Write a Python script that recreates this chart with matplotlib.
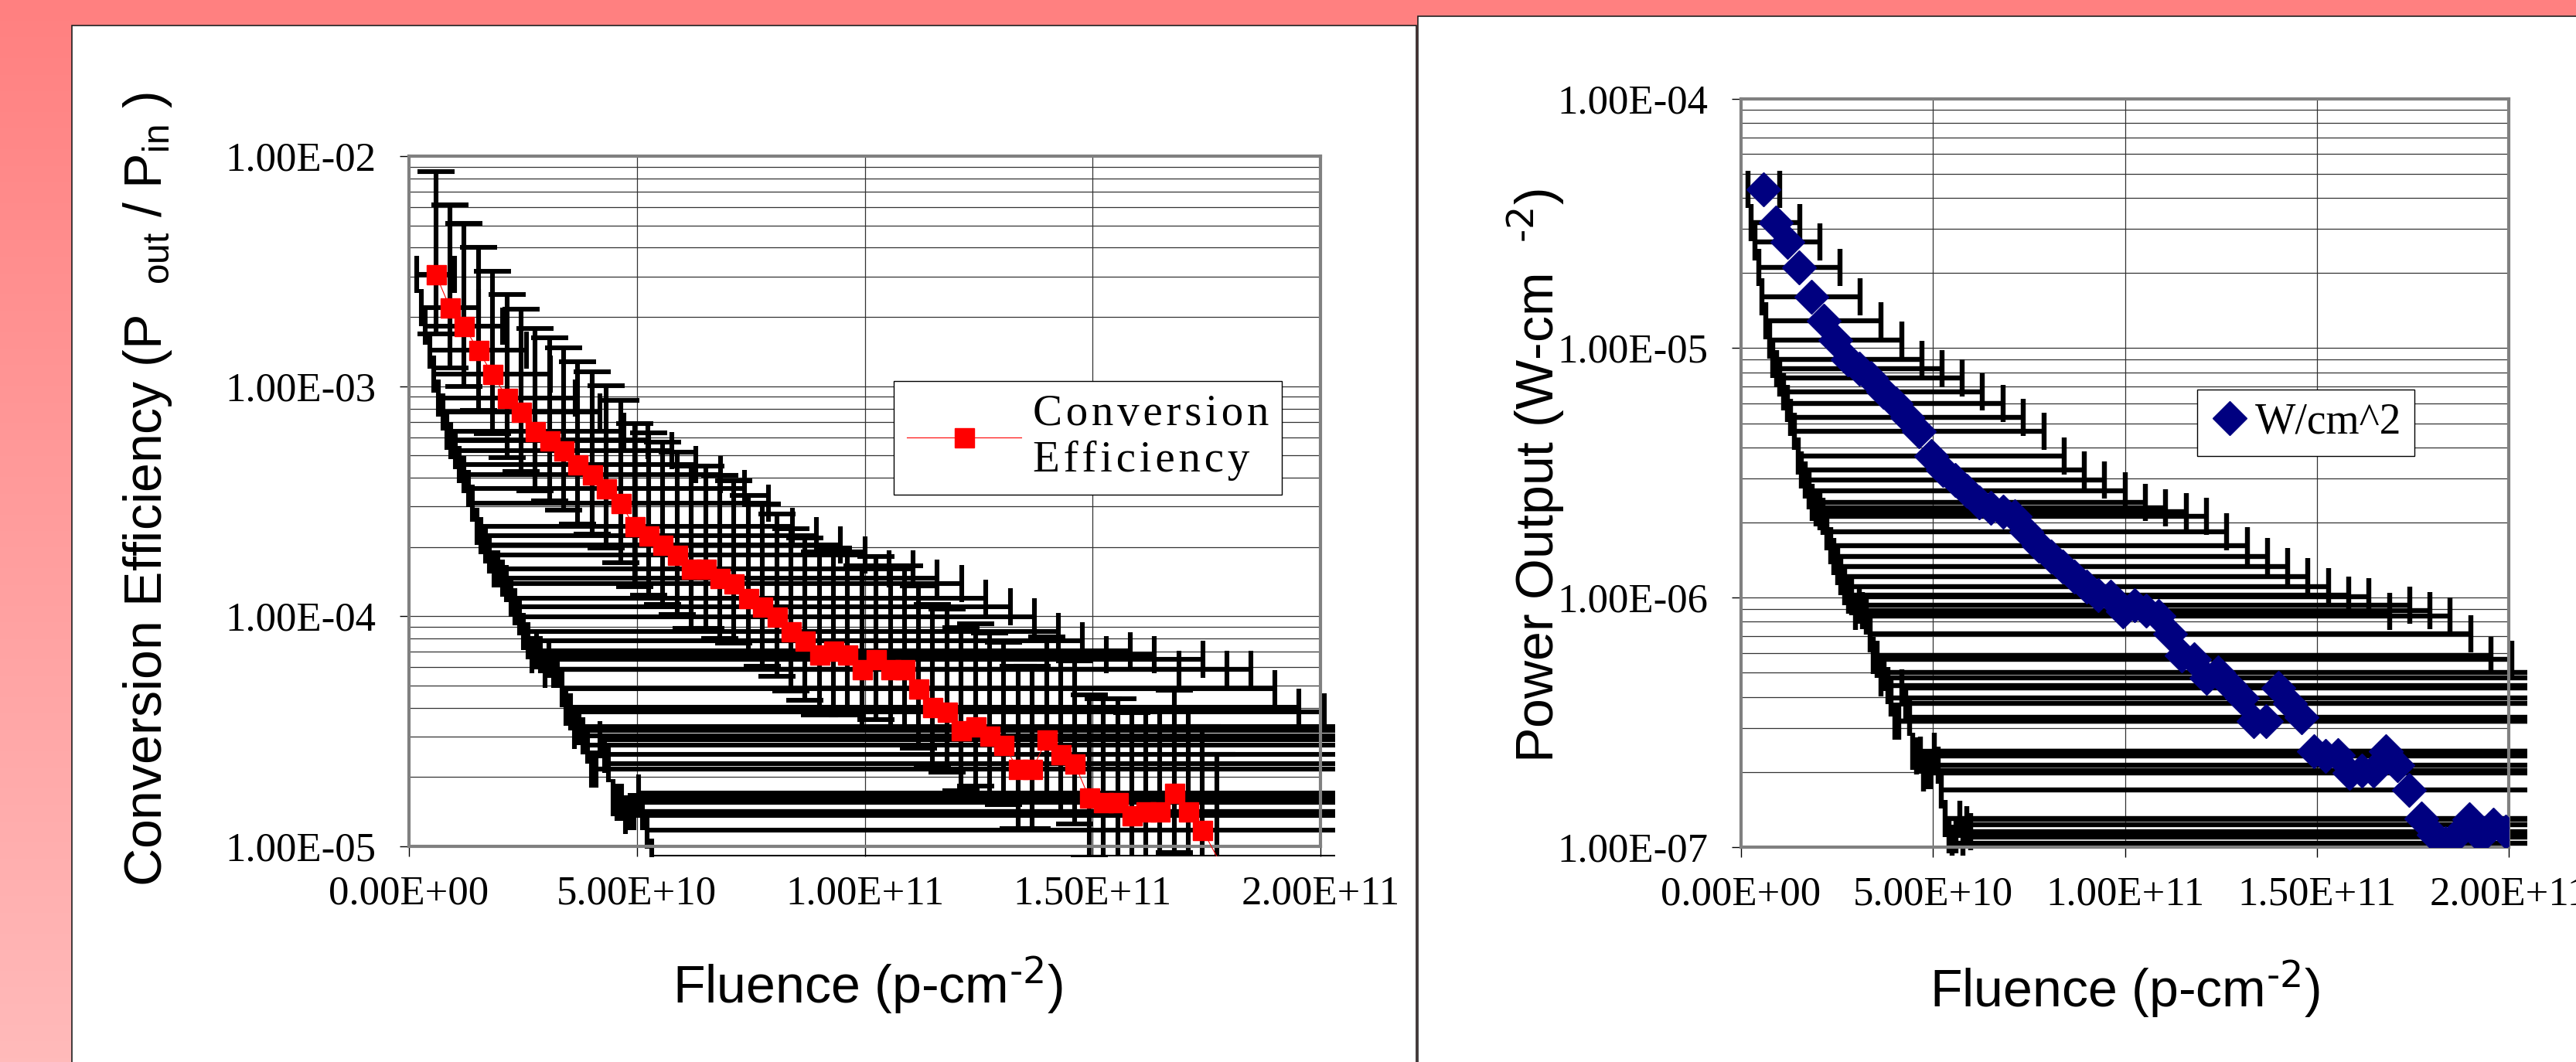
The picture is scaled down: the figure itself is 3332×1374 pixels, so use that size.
import numpy as np
import matplotlib.pyplot as plt
from matplotlib.patches import Rectangle
from matplotlib.lines import Line2D
from matplotlib.ticker import FixedLocator, LogLocator, NullFormatter

plt.rcParams['font.family'] = ['Liberation Sans', 'DejaVu Sans']
plt.rcParams['mathtext.default'] = 'regular'

W, H, DPI = 3332, 1374, 100

# fluence of each measurement, in units of 1e9 p/cm^2
fluence_e9 = [5.9, 9.0, 12.1, 15.2, 18.3, 21.5, 24.6, 27.7, 30.8, 33.9,
              37.0, 40.2, 43.3, 46.4, 49.5, 52.6, 55.7, 58.9, 62.0, 65.1,
              68.2, 71.3, 74.4, 77.6, 80.7, 83.8, 86.9, 90.0, 93.1, 96.2,
              99.4, 102.5, 105.6, 108.7, 111.8, 114.9, 118.1, 121.2, 124.3, 127.4,
              130.5, 133.6, 136.8, 139.9, 143.0, 146.1, 149.2, 152.3, 155.5, 158.6,
              161.7, 164.8, 167.9, 171.0, 174.1, 177.3, 180.4, 183.5, 186.6, 189.7,
              192.8, 196.0, 199.1]

efficiency = [3.06e-3, 2.19e-3, 1.82e-3, 1.43e-3, 1.13e-3, 8.91e-4, 7.73e-4, 6.37e-4,
              5.79e-4, 5.26e-4, 4.56e-4, 4.14e-4, 3.59e-4, 3.11e-4, 2.45e-4, 2.24e-4,
              2.04e-4, 1.85e-4, 1.61e-4, 1.61e-4, 1.46e-4, 1.39e-4, 1.20e-4, 1.10e-4,
              9.96e-5, 8.61e-5, 7.83e-5, 6.79e-5, 7.10e-5, 6.79e-5, 5.90e-5, 6.49e-5,
              5.90e-5, 5.90e-5, 4.86e-5, 4.03e-5, 3.83e-5, 3.18e-5, 3.32e-5, 3.02e-5,
              2.76e-5, 2.17e-5, 2.17e-5, 2.90e-5, 2.51e-5, 2.28e-5, 1.63e-5, 1.56e-5,
              1.56e-5, 1.36e-5, 1.42e-5, 1.42e-5, 1.71e-5, 1.42e-5, 1.18e-5, 9.0e-6]

power = [4.33e-5, 3.18e-5, 2.66e-5, 2.11e-5, 1.61e-5, 1.29e-5, 1.08e-5, 9.0e-6,
         8.28e-6, 7.57e-6, 6.68e-6, 6.01e-6, 5.27e-6, 4.63e-6, 3.69e-6, 3.24e-6,
         2.97e-6, 2.68e-6, 2.40e-6, 2.29e-6, 2.21e-6, 2.12e-6, 1.84e-6, 1.62e-6,
         1.46e-6, 1.33e-6, 1.21e-6, 1.11e-6, 1.02e-6, 1.01e-6, 8.81e-7, 9.32e-7,
         8.87e-7, 8.44e-7, 7.16e-7, 5.86e-7, 5.66e-7, 4.77e-7, 5.01e-7, 4.44e-7,
         3.96e-7, 3.20e-7, 3.20e-7, 4.35e-7, 3.77e-7, 3.31e-7, 2.42e-7, 2.32e-7,
         2.34e-7, 1.98e-7, 2.02e-7, 2.02e-7, 2.42e-7, 2.13e-7, 1.69e-7, 1.30e-7,
         1.12e-7, 1.04e-7, 1.12e-7, 1.29e-7, 1.10e-7, 1.23e-7, 1.15e-7]

# error bar settings (percentage bars, as in the spreadsheet)
x_err_pct = 0.70
eff_err_plus = 1.80
eff_err_minus = 0.45

x_ticks = [0, 5e10, 1e11, 1.5e11, 2e11]
x_ticklabels = ['0.00E+00', '5.00E+10', '1.00E+11', '1.50E+11', '2.00E+11']
eff_ticks = [1e-5, 1e-4, 1e-3, 1e-2]
eff_ticklabels = ['1.00E-05', '1.00E-04', '1.00E-03', '1.00E-02']
pow_ticks = [1e-7, 1e-6, 1e-5, 1e-4]
pow_ticklabels = ['1.00E-07', '1.00E-06', '1.00E-05', '1.00E-04']

SERIF = ['Liberation Serif', 'DejaVu Serif']
HAIR = '\u200a'


def spaced(s):
    # the spreadsheet spread the legend letters out a little
    return '\n'.join(HAIR.join(line) for line in s.split('\n'))


def px_axes(fig, left, top, right, bottom):
    return fig.add_axes([left / W, 1 - bottom / H, (right - left) / W, (bottom - top) / H])


def wide_clip(artists, ax, x0, y0, x1, y1):
    rect = Rectangle((x0, y0), x1 - x0, y1 - y0, transform=ax.transAxes)
    for a in artists:
        a.set_clip_path(rect)


def style_axes(ax, yticks, yticklabels, ylim):
    ax.set_yscale('log')
    ax.set_xlim(0, 2e11)
    ax.set_ylim(*ylim)
    ax.set_facecolor('white')
    ax.yaxis.set_major_locator(FixedLocator(yticks))
    ax.set_yticklabels(yticklabels)
    ax.yaxis.set_minor_locator(LogLocator(base=10, subs=np.arange(2, 10)))
    ax.yaxis.set_minor_formatter(NullFormatter())
    ax.set_xticks(x_ticks)
    ax.set_xticklabels(x_ticklabels)
    ax.grid(True, which='both', axis='y', color='#333333', lw=0.9, zorder=0)
    ax.grid(True, which='major', axis='x', color='#333333', lw=0.9, zorder=0)
    ax.set_axisbelow(True)
    for s in ax.spines.values():
        s.set_color('#808080')
        s.set_linewidth(3)
    ax.tick_params(which='major', direction='out', length=9, width=1, color='black')
    ax.tick_params(which='minor', length=0)
    ax.tick_params(axis='y', pad=22)
    ax.tick_params(axis='x', pad=18)
    for lab in ax.get_xticklabels() + ax.get_yticklabels():
        lab.set_family(SERIF)
        lab.set_fontsize(38)


fig = plt.figure(figsize=(W / DPI, H / DPI), dpi=DPI)

# slide background and the two white panels
bg = fig.add_axes([0, 0, 1, 1], zorder=-10)
bg.set_xlim(0, W)
bg.set_ylim(H, 0)
bg.axis('off')
grad = np.linspace(0, 1, 256).reshape(-1, 1)
top_c = np.array([255, 128, 128]) / 255
bot_c = np.array([255, 186, 186]) / 255
img = top_c + (bot_c - top_c) * grad[..., None]
bg.imshow(img.repeat(2, axis=1), extent=(0, W, H, 0), aspect='auto')
bg.add_patch(Rectangle((93, 33), 1832.5 - 93, H, facecolor='white', edgecolor='#202020', lw=1.2))
bg.add_patch(Rectangle((1834, 20.5), W, H, facecolor='white', edgecolor='#202020', lw=1.2))

x = np.array(fluence_e9) * 1e9

# ---- left: conversion efficiency ----
ax1 = px_axes(fig, 529, 202, 1708, 1095)
eff = np.array(efficiency)
xe = x[:len(eff)]
eb1 = ax1.errorbar(xe, eff, xerr=x_err_pct * xe, yerr=[eff_err_minus * eff, eff_err_plus * eff],
                   fmt='none', ecolor='black', elinewidth=4.4, capsize=17, capthick=4.4, zorder=2)
wide_clip(list(eb1.lines[1]) + list(eb1.lines[2]), ax1, 0, -0.0146, 1.016, 1.0)
ln, = ax1.plot(xe, eff, color='red', lw=0.8, zorder=3)
wide_clip([ln], ax1, 0, -0.0146, 1.016, 1.0)
shown = eff >= 1e-5
ax1.plot(xe[shown], eff[shown], ls='none', marker='s', ms=18, color='red', mec='red', zorder=4)
style_axes(ax1, eff_ticks, eff_ticklabels, (1e-5, 1e-2))
h1 = Line2D([], [], color='red', lw=0.8, marker='s', ms=18, mec='red')
leg1 = ax1.legend([h1], [spaced('Conversion\nEfficiency')], loc='upper left',
                  bbox_to_anchor=(0.532, 0.674), borderaxespad=0, fancybox=False,
                  framealpha=1, edgecolor='black', prop={'family': SERIF, 'size': 41},
                  handlelength=2.6, handletextpad=0.25, borderpad=0.3)
leg1.get_frame().set_linewidth(1.0)
leg1.set_zorder(6)

# ---- right: power output ----
ax2 = px_axes(fig, 2252, 127.5, 3245, 1096)
pw = np.array(power)
xp = x[:len(pw)]
eb2 = ax2.errorbar(xp, pw, xerr=x_err_pct * xp, fmt='none', ecolor='black',
                   elinewidth=4.6, capsize=17, capthick=4.6, zorder=2)
wide_clip(list(eb2.lines[1]) + list(eb2.lines[2]), ax2, 0, -0.01, 1.024, 1.0)
ax2.plot(xp, pw, ls='none', marker='D', ms=22, color='#000080', mec='#000080', zorder=4)
style_axes(ax2, pow_ticks, pow_ticklabels, (1e-7, 1e-4))
h2 = Line2D([], [], ls='none', marker='D', ms=22, color='#000080')
leg2 = ax2.legend([h2], ['W/cm^2'], loc='upper left', bbox_to_anchor=(0.594, 0.611),
                  borderaxespad=0, fancybox=False, framealpha=1, edgecolor='black',
                  prop={'family': SERIF, 'size': 40}, handlelength=0.9, handletextpad=0.15,
                  borderpad=0.3)
leg2.get_frame().set_linewidth(1.0)
leg2.set_zorder(6)

# axis titles
fig.text(191 / W, 1 - 633 / H, r'Conversion Efficiency (P  $_{out}$ / P$_{in}$ )',
         rotation=90, ha='center', va='center', fontsize=49)
fig.text(1122 / W, 1 - 1275 / H, r'Fluence (p-cm$^{\text{-2}}$)', ha='center', va='center',
         fontsize=49)
fig.text(1987 / W, 1 - 616 / H, r'Power Output (W-cm  $^{\text{-2}}$)',
         rotation=90, ha='center', va='center', fontsize=49)
fig.text(2748 / W, 1 - 1280 / H, r'Fluence (p-cm$^{\text{-2}}$)', ha='center', va='center',
         fontsize=49)

fig.savefig('out.png', dpi=DPI)
